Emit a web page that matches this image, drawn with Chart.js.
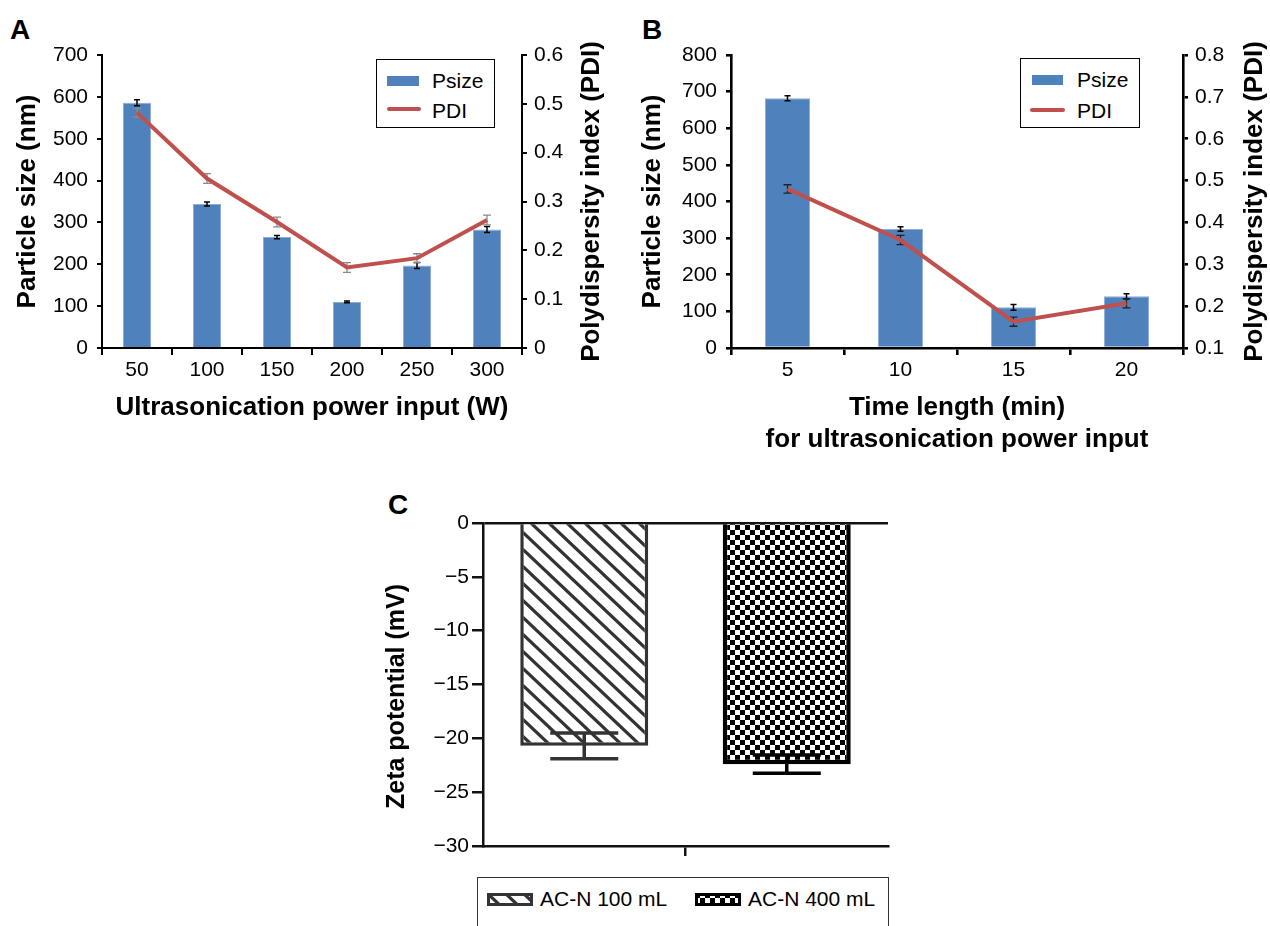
<!DOCTYPE html>
<html>
<head>
<meta charset="utf-8">
<script src="https://cdn.jsdelivr.net/npm/chart.js@4.4.1/dist/chart.umd.min.js"></script>
<style>
  body { margin: 0; background: #fff; width: 1270px; height: 926px; overflow: hidden; position: relative;
         font-family: "Liberation Sans", Arial, sans-serif; color: #000; }
  canvas { position: absolute; }
  .tag { position: absolute; font-weight: bold; font-size: 28px; line-height: 30px; }
  .legend { position: absolute; border: 1.5px solid #000; background: #fff; box-sizing: border-box; }
  .legend span { position: absolute; font-size: 21px; line-height: 24px; white-space: nowrap; }
  .sw-bar { position: absolute; width: 32px; height: 10px; background: #4F81BD; }
  .sw-line { position: absolute; width: 34px; height: 4px; background: #C0504D; border-radius: 2px; }
  #legC { border-color: #333; }
  #legC canvas { position: absolute; }
</style>
</head>
<body>
<div class="tag" style="left:10px;top:15px">A</div>
<div class="tag" style="left:642px;top:15px">B</div>
<div class="tag" style="left:388px;top:490px">C</div>

<canvas id="chartA" width="625" height="440" style="left:0;top:0"></canvas>
<canvas id="chartB" width="645" height="460" style="left:625px;top:0"></canvas>
<canvas id="chartC" width="530" height="380" style="left:370px;top:490px"></canvas>

<div class="legend" style="left:376px;top:59px;width:119px;height:69px">
  <div class="sw-bar" style="left:10px;top:16px"></div><span style="left:55px;top:9px">Psize</span>
  <div class="sw-line" style="left:10px;top:47px"></div><span style="left:55px;top:39px">PDI</span>
</div>
<div class="legend" style="left:1020px;top:58px;width:120px;height:70px">
  <div class="sw-bar" style="left:11px;top:16px;width:31px"></div><span style="left:56px;top:9px">Psize</span>
  <div class="sw-line" style="left:9px;top:49px;width:35px"></div><span style="left:56px;top:40px">PDI</span>
</div>
<div class="legend" id="legC" style="left:477px;top:877px;width:412px;height:70px">
  <canvas id="swC1" width="46" height="13" style="left:9px;top:15px"></canvas><span style="left:62px;top:9px">AC-N 100 mL</span>
  <canvas id="swC2" width="46" height="13" style="left:217px;top:15px"></canvas><span style="left:270px;top:9px">AC-N 400 mL</span>
</div>

<script>
// ---- data ----
const powerLabels = ['50', '100', '150', '200', '250', '300'];
const psizeA = [586, 344, 265, 110, 197, 283];
const psizeErrA = [7, 5, 4, 2, 7, 7];
const pdiA = [0.482, 0.347, 0.258, 0.165, 0.184, 0.262];
const pdiErrA = [0.009, 0.01, 0.01, 0.01, 0.009, 0.01];

const timeLabels = ['5', '10', '15', '20'];
const psizeB = [682, 325, 111, 141];
const psizeErrB = [7, 6, 8, 7];
const pdiB = [0.48, 0.358, 0.163, 0.207];
const pdiErrB = [0.01, 0.011, 0.011, 0.011];

const groupsC = ['AC-N 100 mL', 'AC-N 400 mL'];
const zetaMean = [-20.7, -22.4];
const zetaErr = [1.2, 0.85];

Chart.defaults.font.family = '"Liberation Sans", Arial, sans-serif';
Chart.defaults.color = '#000';
Chart.defaults.animation = false;

const BLUE = '#4F81BD';
const RED = '#C0504D';

// error bars drawn with the chart's own scales
function errorBars(specs) {
  function draw(chart, args, when) {
    specs.forEach(s => {
      if (s.dataset !== args.index || s.when !== when) return;
      const meta = args.meta;
      const yScale = chart.scales[meta.yAxisID];
      const vals = chart.data.datasets[args.index].data;
      const ctx = chart.ctx;
      ctx.save();
      ctx.strokeStyle = s.color;
      ctx.lineWidth = s.width;
      meta.data.forEach((el, i) => {
        const x = el.x;
        const hi = yScale.getPixelForValue(vals[i] + s.errors[i]);
        const lo = yScale.getPixelForValue(vals[i] - s.errors[i]);
        ctx.beginPath();
        ctx.moveTo(x, hi); ctx.lineTo(x, lo);
        ctx.moveTo(x - s.cap, hi); ctx.lineTo(x + s.cap, hi);
        ctx.moveTo(x - s.cap, lo); ctx.lineTo(x + s.cap, lo);
        ctx.stroke();
      });
      ctx.restore();
    });
  }
  return {
    id: 'errorBars',
    beforeDatasetDraw(chart, args) { draw(chart, args, 'before'); },
    afterDatasetDraw(chart, args) { draw(chart, args, 'after'); }
  };
}

// vertical axis title reading bottom-to-top, placed relative to the chart area
function sideTitle(text, side, offset, size, dy) {
  return {
    id: 'sideTitle',
    afterDraw(chart) {
      const a = chart.chartArea, ctx = chart.ctx;
      const x = side === 'right' ? a.right + offset : a.left - offset;
      ctx.save();
      ctx.translate(x, (a.top + a.bottom) / 2 + dy);
      ctx.rotate(-Math.PI / 2);
      ctx.font = 'bold ' + size + 'px "Liberation Sans", Arial, sans-serif';
      ctx.fillStyle = '#000';
      ctx.textAlign = 'center';
      ctx.textBaseline = 'middle';
      ctx.fillText(text, 0, 0);
      ctx.restore();
    }
  };
}

const tickFont = { size: 21 };
const titleFont = { size: 26, weight: 'bold', lineHeight: 1.23 };

function sizePdiChart(id, labels, psize, pdi, opts) {
  const axisGrid = { drawOnChartArea: false, color: '#000', lineWidth: opts.axisW, tickLength: 5 };
  const axisBorder = { color: '#000', width: opts.axisW };
  return new Chart(document.getElementById(id), {
    type: 'bar',
    data: {
      labels: labels,
      datasets: [
        { type: 'bar', label: 'Psize', data: psize, yAxisID: 'y', order: 1,
          backgroundColor: BLUE, borderColor: '#8DADD8', borderWidth: 1,
          barPercentage: 0.4, categoryPercentage: 1 },
        { type: 'line', label: 'PDI', data: pdi, yAxisID: 'y1', order: 0,
          borderColor: RED, borderWidth: 4, pointRadius: 0, tension: 0 }
      ]
    },
    options: {
      responsive: false,
      layout: { padding: { top: 55, left: 0, right: 0, bottom: 0 } },
      plugins: { legend: { display: false }, tooltip: { enabled: false } },
      scales: {
        x: {
          grid: { offset: true, drawOnChartArea: false, color: '#000', lineWidth: opts.axisW, tickLength: 7 },
          border: axisBorder,
          ticks: { font: tickFont, padding: 3, maxRotation: 0 },
          title: { display: true, text: opts.xTitle, font: titleFont, padding: { top: 0, bottom: opts.xTitlePad } },
          afterFit: s => { s.height = opts.xHeight; }
        },
        y: {
          position: 'left', min: 0, max: opts.yMax,
          grid: axisGrid, border: axisBorder,
          ticks: { stepSize: 100, font: tickFont, padding: 9 },
          title: { display: true, text: 'Particle size (nm)', font: titleFont, padding: { top: 12, bottom: 0 } },
          afterFit: s => { s.width = opts.leftW; }
        },
        y1: {
          position: 'right', min: opts.pdiMin, max: opts.pdiMax,
          grid: axisGrid, border: axisBorder,
          ticks: { stepSize: 0.1, font: tickFont, padding: 7 },
          afterFit: s => { s.width = opts.rightW; }
        }
      }
    },
    plugins: [
      errorBars([
        { dataset: 0, when: 'after', errors: opts.psizeErr, color: '#000', width: 1.5, cap: 3 },
        { dataset: 1, when: 'before', errors: opts.pdiErr, color: opts.pdiErrColor, width: 1.3, cap: 4 }
      ]),
      sideTitle('Polydispersity index (PDI)', 'right', opts.rightTitleOffset, 26, 0)
    ]
  });
}

sizePdiChart('chartA', powerLabels, psizeA, pdiA, {
  xTitle: 'Ultrasonication power input (W)', xTitlePad: 16, xHeight: 92, axisW: 2,
  yMax: 700, pdiMin: 0, pdiMax: 0.6, leftW: 102, rightW: 103,
  psizeErr: psizeErrA, pdiErr: pdiErrA, pdiErrColor: '#8a8a8a', rightTitleOffset: 70
});

sizePdiChart('chartB', timeLabels, psizeB, pdiB, {
  xTitle: ['Time length (min)', 'for ultrasonication power input'], xTitlePad: 4, xHeight: 112, axisW: 2.6,
  yMax: 800, pdiMin: 0.1, pdiMax: 0.8, leftW: 106, rightW: 87,
  psizeErr: psizeErrB, pdiErr: pdiErrB, pdiErrColor: '#222', rightTitleOffset: 72
});

// ---- panel C patterns ----
function stripes(ctx) {
  const t = document.createElement('canvas');
  t.width = 18; t.height = 17;
  const g = t.getContext('2d');
  g.fillStyle = '#fff'; g.fillRect(0, 0, 18, 17);
  g.strokeStyle = '#333'; g.lineWidth = 3.2;
  for (let k = -1; k <= 1; k++) {
    g.beginPath();
    g.moveTo(k * 18 - 18, -17);
    g.lineTo(k * 18 + 36, 34);
    g.stroke();
  }
  return ctx.createPattern(t, 'repeat');
}
function checker(ctx) {
  const t = document.createElement('canvas');
  t.width = 10; t.height = 10;
  const g = t.getContext('2d');
  g.fillStyle = '#fff'; g.fillRect(0, 0, 10, 10);
  g.fillStyle = '#000';
  g.fillRect(0, 0, 5, 5); g.fillRect(5, 5, 5, 5);
  return ctx.createPattern(t, 'repeat');
}

const ctxC = document.getElementById('chartC').getContext('2d');
const fillsC = [stripes(ctxC), checker(ctxC)];
const edgesC = ['#333', '#000'];
const edgeW = [3.5, 4.5];

new Chart(ctxC, {
  type: 'bar',
  data: {
    labels: [''],
    datasets: groupsC.map((g, i) => ({
      label: g, data: [zetaMean[i]],
      backgroundColor: fillsC[i], borderColor: edgesC[i], borderWidth: edgeW[i], borderSkipped: 'start',
      barPercentage: 0.632, categoryPercentage: 1
    }))
  },
  options: {
    responsive: false,
    layout: { padding: { top: 33, left: 0, right: 12, bottom: 0 } },
    plugins: { legend: { display: false }, tooltip: { enabled: false } },
    scales: {
      x: {
        grid: { offset: false, drawOnChartArea: false, color: '#111', lineWidth: 2.5, tickLength: 10 },
        border: { color: '#111', width: 2.5 },
        ticks: { padding: 0 },
        afterFit: s => { s.height = 24; }
      },
      y: {
        min: -30, max: 0,
        grid: {
          color: c => (c.tick && c.tick.value === 0 ? '#111' : 'rgba(0,0,0,0)'),
          tickColor: '#111', lineWidth: 2.5, tickWidth: 2.5, tickLength: 11
        },
        border: { color: '#111', width: 2.5 },
        ticks: { stepSize: 5, font: { size: 21 }, padding: 3,
                 callback: v => (v === 0 ? '0' : '\u2212' + Math.abs(v)) },
        afterFit: s => { s.width = 113; }
      }
    }
  },
  plugins: [
    errorBars(groupsC.map((g, i) => ({
      dataset: i, when: 'after', errors: [zetaErr[i]], color: edgesC[i], width: 3.5, cap: 34
    }))),
    sideTitle('Zeta potential (mV)', 'left', 86, 25, 12)
  ]
});

// legend swatches for C
['swC1', 'swC2'].forEach((id, i) => {
  const c = document.getElementById(id).getContext('2d');
  c.fillStyle = i === 0 ? stripes(c) : checker(c);
  c.fillRect(0, 0, 46, 13);
  c.strokeStyle = edgesC[i];
  c.lineWidth = 3;
  c.strokeRect(1.5, 1.5, 43, 10);
});
</script>
</body>
</html>
